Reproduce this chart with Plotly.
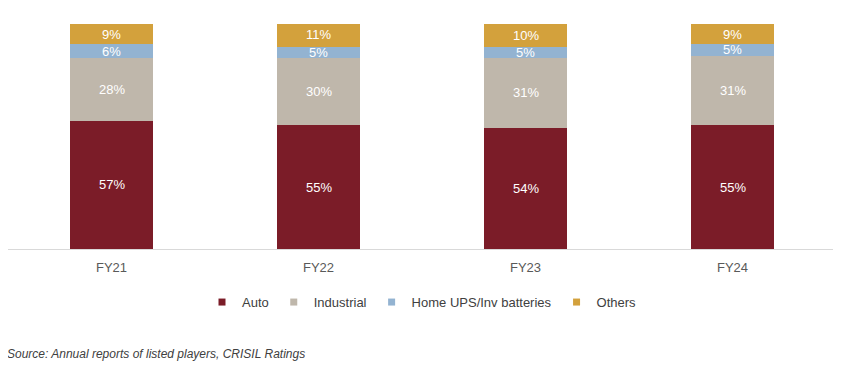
import plotly.graph_objects as go

categories = ["FY21", "FY22", "FY23", "FY24"]
auto = [57, 55, 54, 55]
industrial = [28, 30, 31, 31]
home_ups = [6, 5, 5, 5]
others = [9, 11, 10, 9]

series = [
    ("Auto", auto, "#7B1C28"),
    ("Industrial", industrial, "#BFB7AB"),
    ("Home UPS/Inv batteries", home_ups, "#93B3D1"),
    ("Others", others, "#D3A13C"),
]

FONT = "Liberation Sans, Arial, sans-serif"

fig = go.Figure()
for name, vals, color in series:
    fig.add_trace(go.Bar(
        x=categories, y=vals, name=name, showlegend=False,
        marker=dict(color=color, line=dict(width=0)),
        hoverinfo="skip",
    ))
# legend entries with small square swatches
for name, vals, color in series:
    fig.add_trace(go.Scatter(
        x=[None], y=[None], name=name, mode="markers",
        marker=dict(symbol="square", size=7, color=color),
        showlegend=True, hoverinfo="skip",
    ))

# data labels at segment midpoints
annotations = []
base = [0] * len(categories)
for name, vals, color in series:
    for i, c in enumerate(categories):
        mid = base[i] + vals[i] / 2
        annotations.append(dict(
            x=c, y=mid, xref="x", yref="y", text=f"{vals[i]}%",
            showarrow=False, font=dict(family=FONT, size=13, color="white"),
        ))
        base[i] += vals[i]

annotations.append(dict(
    x=-0.004, y=-0.467, xref="paper", yref="paper", xanchor="left", yanchor="middle",
    text="<i>Source: Annual reports of listed players, CRISIL Ratings</i>",
    showarrow=False, font=dict(family=FONT, size=12, color="#404040"),
))

fig.update_layout(
    barmode="stack",
    bargap=0.6,
    width=833, height=358,
    margin=dict(l=0, r=5, t=16, b=117, pad=0),
    paper_bgcolor="white", plot_bgcolor="white",
    font=dict(family=FONT, size=13, color="#595959"),
    showlegend=True,
    legend=dict(
        orientation="h", x=0.5, xanchor="center", y=-0.236, yanchor="middle",
        font=dict(family=FONT, size=13, color="#404040"),
        itemwidth=30, traceorder="normal", itemclick=False,
    ),
    xaxis=dict(
        showline=True, linecolor="#D9D9D9", linewidth=1,
        ticks="", tickfont=dict(family=FONT, size=13, color="#595959"),
        ticklabelstandoff=6, showgrid=False,
    ),
    yaxis=dict(range=[0, 100], visible=False, showgrid=False),
    annotations=annotations,
)

fig.write_html("out.html")
